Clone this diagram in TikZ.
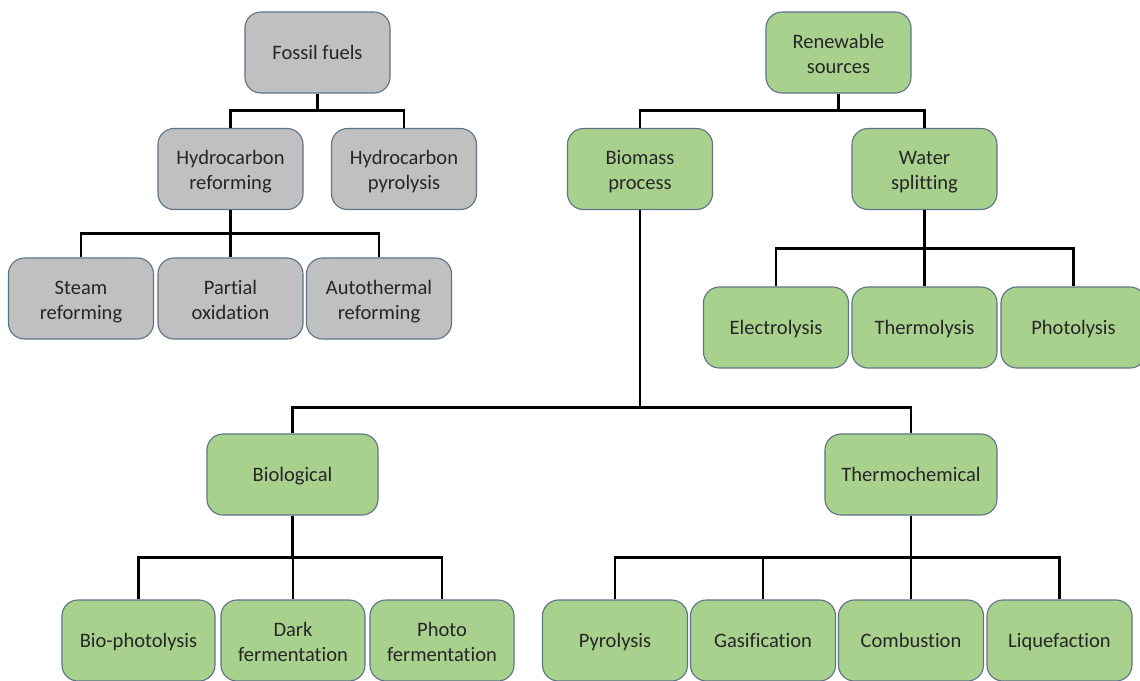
\documentclass[tikz,border=0pt]{standalone}
\usepackage{fontspec}
\setmainfont{Carlito}[Ligatures=NoCommon]

\definecolor{fossilgray}{RGB}{192,192,192}
\definecolor{renewgreen}{RGB}{169,209,142}
\definecolor{boxline}{RGB}{96,116,136}

\tikzset{
  box/.style={draw=boxline, line width=0.8pt, rounded corners=0.4cm,
    minimum width=3.625cm, minimum height=2.025cm, inner sep=2pt,
    align=center, text=black!85, font=\fontsize{14.6}{17.8}\selectfont,
    text height=10.6pt, text depth=0pt},
  two lines/.style={text height=29.5pt, text depth=0pt},
  grey box/.style={box, fill=fossilgray},
  green box/.style={box, fill=renewgreen},
  link/.style={line width=1.6pt, black}
}

\begin{document}
\begin{tikzpicture}[x=0.025cm, y=-0.025cm]
  \path[use as bounding box, fill=white] (0,0) rectangle (1140,680);

  % fossil side
  \node[grey box] (fossil) at (317.5,52.5) {Fossil fuels};
  \node[grey box, two lines] (hcref) at (230.5,169) {Hydrocarbon\\reforming};
  \node[grey box, two lines] (hcpyr) at (404,169) {Hydrocarbon\\pyrolysis};
  \node[grey box, two lines] (steam) at (81,298.5) {Steam\\reforming};
  \node[grey box, two lines] (partial) at (230.5,298.5) {Partial\\oxidation};
  \node[grey box, two lines] (autoth) at (379,298.5) {Autothermal\\reforming};

  % renewable side
  \node[green box, two lines] (renew) at (838.5,52.5) {Renewable\\sources};
  \node[green box, two lines] (biomass) at (640,169) {Biomass\\process};
  \node[green box, two lines] (water) at (924.5,169) {Water\\splitting};
  \node[green box] (electro) at (776,327.5) {Electrolysis};
  \node[green box] (thermol) at (924.5,327.5) {Thermolysis};
  \node[green box] (photol) at (1073.5,327.5) {Photolysis};

  \node[green box, minimum width=4.275cm] (biol) at (292.5,474.5) {Biological};
  \node[green box, minimum width=4.3cm] (thermoch) at (911,474.5) {Thermochemical};

  \node[green box, minimum width=3.825cm] (biophot) at (138.5,640.5) {Bio-photolysis};
  \node[green box, two lines, minimum width=3.6cm] (dark) at (293,640.5) {Dark\\fermentation};
  \node[green box, two lines, minimum width=3.6cm] (photof) at (442,640.5) {Photo\\fermentation};
  \node[green box] (pyro) at (615,640.5) {Pyrolysis};
  \node[green box] (gasif) at (763,640.5) {Gasification};
  \node[green box] (combu) at (911,640.5) {Combustion};
  \node[green box] (lique) at (1059.5,640.5) {Liquefaction};

  % connectors
  \foreach \child in {hcref,hcpyr}
    \draw[link] (fossil.south) -- ++(0,17) -| (\child.north);
  \foreach \child in {steam,partial,autoth}
    \draw[link] (hcref.south) -- ++(0,23.5) -| (\child.north);
  \foreach \child in {biomass,water}
    \draw[link] (renew.south) -- ++(0,17) -| (\child.north);
  \foreach \child in {electro,thermol,photol}
    \draw[link] (water.south) -- ++(0,38.5) -| (\child.north);
  \foreach \child in {biol,thermoch}
    \draw[link] (biomass.south) -- ++(0,197.5) -| (\child.north);
  \foreach \child in {biophot,dark,photof}
    \draw[link] (biol.south) -- ++(0,42) -| (\child.north);
  \foreach \child in {pyro,gasif,combu,lique}
    \draw[link] (thermoch.south) -- ++(0,42) -| (\child.north);
\end{tikzpicture}
\end{document}
